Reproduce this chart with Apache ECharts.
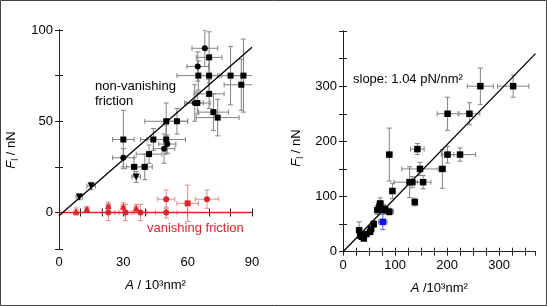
<!DOCTYPE html>
<html>
<head>
<meta charset="utf-8">
<script src="https://cdn.jsdelivr.net/npm/echarts@6/dist/echarts.min.js"></script>
<style>
html,body{margin:0;padding:0;background:#fff;}
#c{width:547px;height:306px;}
</style>
</head>
<body>
<div id="c"></div>
<script>
// ---- data: [x, y, xErr, yErr] ----
const leftBlackSquares = [[70,85,6,14],[65,75,10,8],[70,75,6,10],[80,75,6,16],[86,75,5,20],[85,70,8,14],[70,65,7,8],[64.5,60,6,6],[72,55,7,10],[74,52,10,10],[50,50,10,10],[55,50,5,7],[30,40,5,16],[44,40,6,6],[50,40,9,8],[42,32,6,5],[35,25,3.5,5],[40,25,3.5,7]];
const leftBlackCircles = [[68,90,6,10],[64.7,80,5,8],[63.3,60,4,10],[50.5,37.5,4,5],[49,35,5,8],[30,30,5,5]];
const leftBlackTriangles = [[36,19.5,2,3],[15,14.5,2,2],[9.5,8.5,1.5,1.5]];
const leftRedTriangles = [[8,0.5,1,2],[13,2,1,1],[23,3.7,1,2],[30,3.3,1,2],[36,2.5,1,2]];
const leftRedCircles = [[23,0,3,4.5],[31,0,3,4.5],[38,0,3,4.5],[50,0,5,3],[50,7.3,4,5],[69,7.3,5.5,5]];
const leftRedSquares = [[60,5,5,10]];
const leftFitLine = [[0,-1.8],[90,90.5]];
const leftZeroLine = [[0,0],[90,0]];

const rightSquares = [[264,300,25,33],[327,300,30,20],[201,250,20,30],[243,250,20,20],[89,176,5,48],[143,186,13,10],[201,176,12,15],[225,176,30,12],[148,150,35,12],[191,150,6,35],[128,126,30,28],[133,126,10,10],[154,126,15,12],[95,110,5,14],[138,90,3,7],[71.5,87.5,6,10],[70,81.5,6,8],[66,75.5,5,8],[81,75.5,10,6],[89,72.5,8,6],[78,78,8,8],[59,50,5,6],[54,41,5,5],[52,36,5,5],[31,39,4,15],[33,30,5,6],[40,24,4,4],[36,27,4,4],[45,32,4,4]];
const rightBlue = [[76.5,54,8,14]];
const rightFitLine = [[0,0],[370,359]];

const leftXTicks = [0,30,60,90];
const leftYTicks = [0,50,100];
const rightXTicks = [0,100,200,300];
const rightYTicks = [0,100,200,300];

const FONT = 'Liberation Sans, Arial, sans-serif';

function errRender(color){
  return function(params, api){
    const x = api.value(0), y = api.value(1), ex = api.value(2), ey = api.value(3);
    const l = api.coord([x-ex, y]), r = api.coord([x+ex, y]);
    const t = api.coord([x, y+ey]), b = api.coord([x, y-ey]);
    const cap = 2.5;
    const st = {stroke: color, lineWidth: 1};
    const line = (x1,y1,x2,y2)=>({type:'line', shape:{x1,y1,x2,y2}, style:st});
    return {type:'group', children:[
      line(l[0],l[1],r[0],r[1]),
      line(l[0],l[1]-cap,l[0],l[1]+cap),
      line(r[0],r[1]-cap,r[0],r[1]+cap),
      line(t[0],t[1],b[0],b[1]),
      line(t[0]-cap,t[1],t[0]+cap,t[1]),
      line(b[0]-cap,b[1],b[0]+cap,b[1])
    ]};
  };
}
function errSeries(data, color, xi, yi){
  return {type:'custom', xAxisIndex:xi, yAxisIndex:yi, data:data, renderItem:errRender(color), encode:{x:0,y:1}, clip:true, z:2, silent:true};
}
function scat(data, symbol, size, color, xi, yi){
  return {type:'scatter', xAxisIndex:xi, yAxisIndex:yi, data:data.map(d=>[d[0],d[1]]), symbol:symbol, symbolSize:size, itemStyle:{color:color, opacity:1}, z:4, silent:true, clip:false};
}
function lineS(data, color, xi, yi, w){
  return {type:'line', xAxisIndex:xi, yAxisIndex:yi, data:data, showSymbol:false, symbol:'none', lineStyle:{color:color, width:w||1.3}, z:3, silent:true, clip:true};
}

const axisCommon = {
  axisLine:{show:true, lineStyle:{color:'#222', width:1}},
  axisTick:{show:true, inside:true, length:4, lineStyle:{color:'#222'}},
  splitLine:{show:false}
};
function labelFmt(list){ return v => list.indexOf(v) >= 0 ? String(v) : ''; }

const xName = (t)=>({name:t, nameLocation:'middle', nameGap:30, nameTextStyle:{fontFamily:FONT, fontSize:13, color:'#000', rich:{i:{fontStyle:'italic', fontFamily:FONT, fontSize:13, color:'#000'}}}});

const option = {
  animation:false,
  textStyle:{fontFamily:FONT},
  grid:[{left:59, right:295, top:30, bottom:57}, {left:343, right:11.5, top:31, bottom:54.3}],
  xAxis:[
    Object.assign({type:'value', gridIndex:0, position:'bottom', min:0, max:90, interval:10,
      axisLabel:{formatter:labelFmt(leftXTicks), color:'#000', fontSize:13, fontFamily:FONT, margin:7}}, axisCommon, xName('{i|A} / 10³nm²')),
    Object.assign({type:'value', gridIndex:0, position:'top', min:0, max:90, interval:10, axisLabel:{show:false}}, axisCommon),
    Object.assign({type:'value', gridIndex:1, position:'bottom', min:0, max:370, interval:25,
      axisLabel:{formatter:labelFmt(rightXTicks), color:'#000', fontSize:13, fontFamily:FONT, margin:7, showMaxLabel:false}}, axisCommon, xName('{i|A} /10³nm²')),
    Object.assign({type:'value', gridIndex:1, position:'top', min:0, max:370, interval:25, axisLabel:{show:false}}, axisCommon)
  ],
  yAxis:[
    Object.assign({type:'value', gridIndex:0, position:'left', min:-20, max:100, minInterval:25, maxInterval:25,
      axisLabel:{formatter:labelFmt(leftYTicks), color:'#000', fontSize:13, fontFamily:FONT, margin:6}}, axisCommon),
    Object.assign({type:'value', gridIndex:0, position:'right', min:-20, max:100, minInterval:25, maxInterval:25, axisLabel:{show:false}}, axisCommon),
    Object.assign({type:'value', gridIndex:1, position:'left', min:0, max:400, interval:50,
      axisLabel:{formatter:labelFmt(rightYTicks), color:'#000', fontSize:13, fontFamily:FONT, margin:6}}, axisCommon),
    Object.assign({type:'value', gridIndex:1, position:'right', min:0, max:400, interval:50, axisLabel:{show:false}}, axisCommon)
  ],
  series:[
    lineS(leftZeroLine, '#d9262b', 0, 0, 1.6),
    lineS(leftFitLine, '#000', 0, 0),
    errSeries(leftBlackSquares.concat(leftBlackCircles, leftBlackTriangles), '#828282', 0, 0),
    errSeries(leftRedTriangles.concat(leftRedCircles, leftRedSquares), '#e58a8a', 0, 0),
    scat(leftBlackSquares, 'rect', 6, '#000', 0, 0),
    scat(leftBlackCircles, 'circle', 6, '#000', 0, 0),
    scat(leftBlackTriangles, 'path://M0,0L10,0L5,9Z', 7, '#000', 0, 0),
    scat(leftRedTriangles, 'triangle', 6.5, '#d9262b', 0, 0),
    scat(leftRedCircles, 'circle', 6, '#d9262b', 0, 0),
    scat(leftRedSquares, 'rect', 6, '#d9262b', 0, 0),
    lineS(rightFitLine, '#000', 2, 2),
    errSeries(rightSquares, '#828282', 2, 2),
    errSeries(rightBlue, '#5a5ae0', 2, 2),
    scat(rightSquares, 'rect', 6.5, '#000', 2, 2),
    scat(rightBlue, 'rect', 6.5, '#1010e0', 2, 2)
  ],
  graphic:[
    {type:'rect', shape:{x:0.5, y:0.5, width:546, height:305}, style:{fill:'none', stroke:'#444', lineWidth:1}, silent:true},
    {type:'text', x:95, y:79, style:{text:'non-vanishing\nfriction', fontFamily:FONT, fontSize:13, lineHeight:15, fill:'#000'}},
    {type:'text', x:147, y:222, style:{text:'vanishing friction', fontFamily:FONT, fontSize:13, fill:'#d9262b'}},
    {type:'text', x:353, y:73, style:{text:'slope: 1.04 pN/nm²', fontFamily:FONT, fontSize:13, fill:'#000'}},
    {type:'text', x:11, y:150, rotation:Math.PI/2, style:{text:'{i|F}{s|l} / nN', align:'center', verticalAlign:'middle', fontFamily:FONT, fontSize:13, fill:'#000',
      rich:{i:{fontStyle:'italic', fontFamily:FONT, fontSize:13, lineHeight:18}, s:{fontFamily:FONT, fontSize:9, verticalAlign:'bottom', lineHeight:9}}}},
    {type:'text', x:296, y:148, rotation:Math.PI/2, style:{text:'{i|F}{s|l} / nN', align:'center', verticalAlign:'middle', fontFamily:FONT, fontSize:13, fill:'#000',
      rich:{i:{fontStyle:'italic', fontFamily:FONT, fontSize:13, lineHeight:18}, s:{fontFamily:FONT, fontSize:9, verticalAlign:'bottom', lineHeight:9}}}}
  ]
};
const chart = echarts.init(document.getElementById('c'), null, {renderer:'canvas'});
chart.setOption(option);
</script>
</body>
</html>
